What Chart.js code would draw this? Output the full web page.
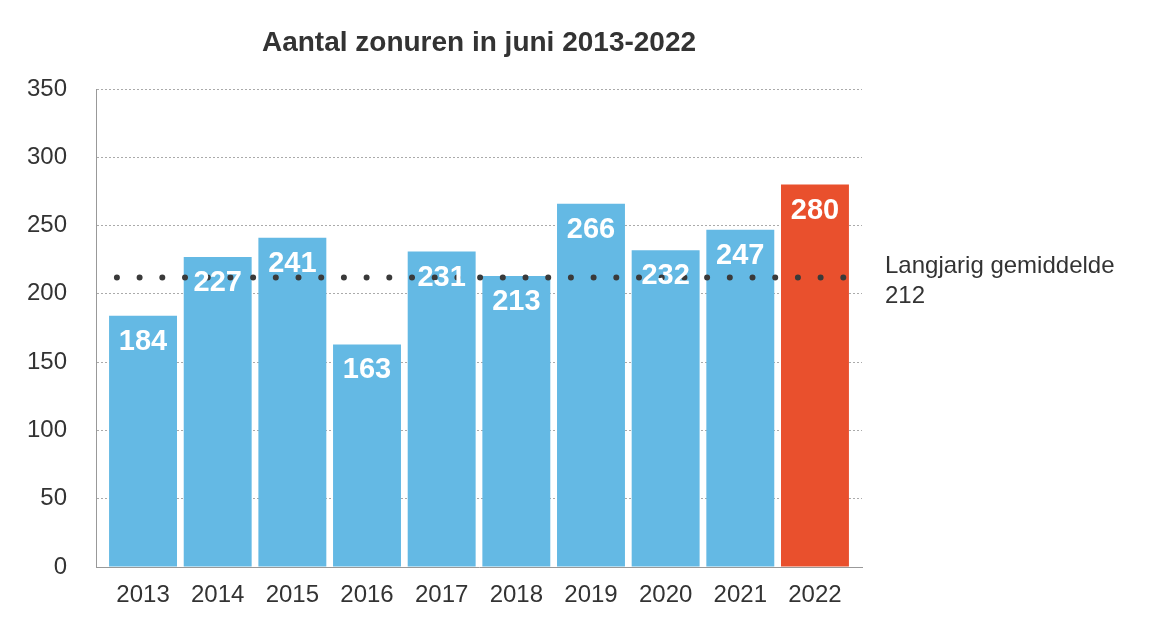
<!DOCTYPE html>
<html>
<head>
<meta charset="utf-8">
<script src="https://cdn.jsdelivr.net/npm/chart.js@4"></script>
<style>
  html, body { margin: 0; padding: 0; background: #fff; }
  #wrap { width: 1154px; height: 634px; }
</style>
</head>
<body>
<div id="wrap"><canvas id="chart"></canvas></div>
<script>
// data
const years = [2013, 2014, 2015, 2016, 2017, 2018, 2019, 2020, 2021, 2022];
const hours = [184, 227, 241, 163, 231, 213, 266, 232, 247, 280];
const average = 212;
const avgLabel = ['Langjarig gemiddelde', '212'];
const chartTitle = 'Aantal zonuren in juni 2013-2022';

const BLUE = '#64b9e4';
const RED = '#e9502d';
const FONT = '"Liberation Sans", Arial, sans-serif';

let barColors = years.map(y => y === 2022 ? RED : BLUE);

// white value labels inside the bars, title and the average note
const extras = {
  id: 'extras',
  afterDatasetsDraw(chart) {
    const ctx = chart.ctx;
    const meta = chart.getDatasetMeta(0);
    ctx.save();
    ctx.fillStyle = '#fff';
    ctx.font = 'bold 29px ' + FONT;
    ctx.textAlign = 'center';
    ctx.textBaseline = 'middle';
    meta.data.forEach((bar, i) => {
      ctx.fillText(String(hours[i]), bar.x, bar.y + 26);
    });

    let area = chart.chartArea;
    ctx.fillStyle = '#333';
    ctx.font = 'bold 28px ' + FONT;
    ctx.fillText(chartTitle, (area.left + area.right) / 2, 43);

    let yPix = chart.scales.y.getPixelForValue(average);
    ctx.fillStyle = '#333';
    ctx.font = '24px ' + FONT;
    ctx.textAlign = 'left';
    ctx.fillText(avgLabel[0], 885, yPix - 11);
    ctx.fillText(avgLabel[1], 885, yPix + 19);
    ctx.restore();
  }
};

let canvas = document.getElementById('chart');

let chart = new Chart(canvas, {
  data: {
    datasets: [{
      type: 'bar',
      data: years.map((y, i) => ({ x: y, y: hours[i] })),
      backgroundColor: barColors,
      barPercentage: 0.91,
      categoryPercentage: 1,
      order: 2
    }, {
      type: 'line',
      data: [{ x: 2012.65, y: average }, { x: 2022.6, y: average }],
      borderColor: '#3a3a3a',
      borderWidth: 6,
      borderDash: [0, 22.7],
      borderCapStyle: 'round',
      pointRadius: 0,
      order: 1
    }]
  },
  options: {
    responsive: true,
    maintainAspectRatio: false,
    animation: false,
    layout: { padding: { left: 0, right: 292, top: 89, bottom: 0 } },
    plugins: {
      legend: { display: false },
      tooltip: { enabled: false }
    },
    scales: {
      x: {
        type: 'linear',
        offset: false,
        min: 2012.37,
        max: 2022.63,
        afterBuildTicks: scale => { scale.ticks = years.map(v => ({ value: v })); },
        afterFit: scale => { scale.height = 67; },
        grid: { display: false, drawTicks: false },
        border: { display: true, color: '#999', width: 1 },
        ticks: {
          color: '#333',
          font: { family: FONT, size: 24 },
          padding: 14,
          maxRotation: 0,
          autoSkip: false,
          callback: v => String(v)
        }
      },
      y: {
        min: 0,
        max: 350,
        afterFit: scale => { scale.width = 96; },
        grid: { color: '#aaa', lineWidth: 1, drawTicks: false },
        border: { display: true, color: '#999', width: 1, dash: [2, 2] },
        ticks: {
          stepSize: 50,
          color: '#333',
          font: { family: FONT, size: 24 },
          padding: 29
        }
      }
    }
  },
  plugins: [extras]
});
</script>
</body>
</html>
